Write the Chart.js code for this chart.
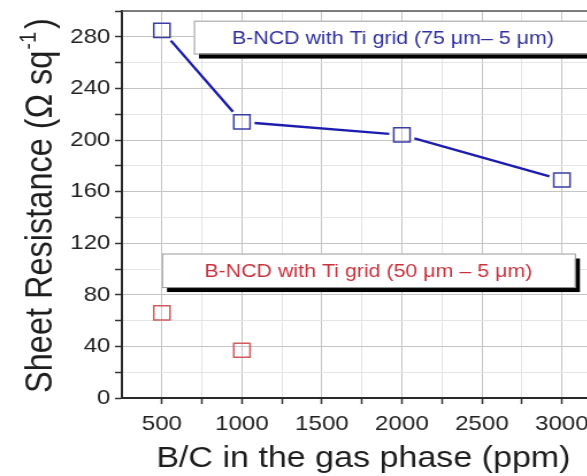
<!DOCTYPE html>
<html>
<head>
<meta charset="utf-8">
<script src="https://cdn.jsdelivr.net/npm/chart.js@4/dist/chart.umd.min.js"></script>
<style>
  html, body { margin: 0; padding: 0; background: #fff; overflow: hidden; width: 587px; height: 476px; }
  #wrap { position: absolute; left: 0; top: 0; width: 511px; height: 476px; transform: scaleX(1.15); transform-origin: 0 0; }
  canvas { display: block; }
</style>
</head>
<body>
<div id="wrap"><canvas id="c" width="511" height="476"></canvas></div>
<script>
// Sheet resistance versus B/C ratio for two Ti grid geometries
const boronRatio75 = [500, 1000, 2000, 3000];
const resistance75 = [285, 214, 204, 169];
const boronRatio50 = [500, 1000];
const resistance50 = [66, 37];

const xTickValues = [500, 750, 1000, 1250, 1500, 1750, 2000, 2250, 2500, 2750, 3000];
const xLabelStep = 500;
const yTickValues = [0, 20, 40, 60, 80, 100, 120, 140, 160, 180, 200, 220, 240, 260, 280, 300];
const yLabelStep = 40;

const label75 = 'B-NCD with Ti grid (75 \u03bcm\u2013 5 \u03bcm)';
const label50 = 'B-NCD with Ti grid (50 \u03bcm \u2013 5 \u03bcm)';
const xTitle = 'B/C in the gas phase (ppm)';
const yTitleMain = 'Sheet Resistance (\u03a9 sq';
const yTitleSup = '-1';
const yTitleEnd = ')';

const FONT = '"Liberation Sans", Arial, Helvetica, sans-serif';
const MAJOR_GRID = '#c4c4c4';
const MINOR_GRID = '#e4e4e4';
const MARKER_HALF = 7.5;   // half side of the square markers, px
const LINE_GAP = 3.5;      // clearance between a marker and the connecting line

// Boxed series captions with a drop shadow, placed in data units
const captionBoxes = [
  { text: label75, color: '#2f2f9e', x0: 700, x1: 3400, yTop: 292.5, yBottom: 267, textX: 1944 },
  { text: label50, color: '#c8323c', x0: 500, x1: 3081, yTop: 112, yBottom: 86, textX: 1790 }
];

const captionPlugin = {
  id: 'captions',
  beforeDatasetsDraw(chart) {
    const { ctx, scales: { x, y } } = chart;
    ctx.save();
    captionBoxes.forEach(b => {
      const l = x.getPixelForValue(b.x0), r = x.getPixelForValue(b.x1);
      const t = y.getPixelForValue(b.yTop), btm = y.getPixelForValue(b.yBottom);
      ctx.fillStyle = '#000';
      ctx.fillRect(l + 4.4, t + 5, r - l, btm - t);
      ctx.fillStyle = '#fff';
      ctx.fillRect(l, t, r - l, btm - t);
      ctx.strokeStyle = '#9a9a9a';
      ctx.lineWidth = 1;
      ctx.strokeRect(l + 0.5, t + 0.5, r - l, btm - t);
      ctx.fillStyle = b.color;
      ctx.font = '18.6px ' + FONT;
      ctx.textAlign = 'center';
      ctx.textBaseline = 'middle';
      ctx.fillText(b.text, x.getPixelForValue(b.textX), (t + btm) / 2 + 2);
    });
    ctx.restore();
  }
};

// Axis titles, frame line on top, and the superscript in the y title
const titlePlugin = {
  id: 'titles',
  afterDraw(chart) {
    const { ctx, chartArea: a } = chart;
    ctx.save();
    ctx.strokeStyle = '#555';
    ctx.lineWidth = 1.5;
    ctx.beginPath();
    ctx.moveTo(a.left, a.top);
    ctx.lineTo(a.right, a.top);
    ctx.stroke();

    ctx.fillStyle = '#1e1e1e';
    ctx.font = '29.6px ' + FONT;
    ctx.textAlign = 'center';
    ctx.textBaseline = 'alphabetic';
    ctx.fillText(xTitle, 316, 467);

    const big = '32.5px ' + FONT, small = '20px ' + FONT;
    ctx.font = big;
    const w1 = ctx.measureText(yTitleMain).width;
    const w3 = ctx.measureText(yTitleEnd).width;
    ctx.font = small;
    const w2 = ctx.measureText(yTitleSup).width + 3;
    const total = w1 + w2 + w3;
    ctx.translate(45, 206);
    ctx.rotate(-Math.PI / 2);
    ctx.textAlign = 'left';
    let px = -total / 2;
    ctx.font = big;
    ctx.fillText(yTitleMain, px, 0);
    px += w1 + 1;
    ctx.font = small;
    ctx.fillText(yTitleSup, px, -14);
    px += w2;
    ctx.font = big;
    ctx.fillText(yTitleEnd, px, 0);
    ctx.restore();
  }
};

// Pin each axis box to a fixed size and drop the label overhang padding
const pinScale = (w, h) => s => {
  if (w !== null) s.width = w;
  if (h !== null) s.height = h;
  s.paddingTop = 0; s.paddingBottom = 0; s.paddingLeft = 0; s.paddingRight = 0;
};

// Dash pattern that leaves a small gap next to each marker on a segment
const gappedDash = ctx => {
  const dx = ctx.p1.x - ctx.p0.x, dy = ctx.p1.y - ctx.p0.y;
  const len = Math.hypot(dx, dy);
  const edge = MARKER_HALF / Math.max(Math.abs(dx) / len, Math.abs(dy) / len);
  const g = edge + LINE_GAP;
  return [0, g, Math.max(len - 2 * g, 0), len + 10];
};

new Chart(document.getElementById('c'), {
  type: 'scatter',
  data: {
    datasets: [
      {
        label: label75,
        data: boronRatio75.map((v, i) => ({ x: v, y: resistance75[i] })),
        showLine: true,
        borderColor: '#1c1cae',
        borderWidth: 2.4,
        segment: { borderDash: gappedDash },
        pointStyle: 'rect',
        pointRadius: 10,
        pointBorderColor: '#3c3ca6',
        pointBorderWidth: 1.5,
        pointBackgroundColor: 'rgba(255,255,255,0)'
      },
      {
        label: label50,
        data: boronRatio50.map((v, i) => ({ x: v, y: resistance50[i] })),
        showLine: false,
        pointStyle: 'rect',
        pointRadius: 10,
        pointBorderColor: '#d05a5f',
        pointBorderWidth: 1.5,
        pointBackgroundColor: 'rgba(255,255,255,0)'
      }
    ]
  },
  options: {
    responsive: false,
    animation: false,
    devicePixelRatio: 1,
    layout: { autoPadding: false, padding: { top: 11, left: 0, right: 0, bottom: 0 } },
    plugins: { legend: { display: false }, tooltip: { enabled: false } },
    scales: {
      x: {
        type: 'linear',
        min: 250,
        max: 3161,
        afterBuildTicks: s => { s.ticks = xTickValues.map(v => ({ value: v })); },
        afterFit: pinScale(null, 78),
        grid: {
          color: c => (c.tick && c.tick.value % xLabelStep === 0 ? MAJOR_GRID : MINOR_GRID),
          lineWidth: 1,
          tickColor: '#333',
          tickLength: 6,
          tickWidth: 1.5
        },
        border: { color: '#2a2a2a', width: 2 },
        ticks: {
          autoSkip: false,
          maxRotation: 0,
          padding: 8,
          color: '#222',
          font: { family: FONT, size: 21 },
          callback: v => (v % xLabelStep === 0 ? String(v) : '')
        }
      },
      y: {
        type: 'linear',
        min: 0,
        max: 300,
        afterBuildTicks: s => { s.ticks = yTickValues.map(v => ({ value: v })); },
        afterFit: pinScale(106, null),
        grid: {
          color: c => (c.tick && c.tick.value % yLabelStep === 0 ? MAJOR_GRID : MINOR_GRID),
          lineWidth: 1,
          tickColor: '#333',
          tickLength: 6,
          tickWidth: 1.5
        },
        border: { color: '#2a2a2a', width: 2 },
        ticks: {
          autoSkip: false,
          padding: 4,
          color: '#222',
          font: { family: FONT, size: 21 },
          callback: v => (v % yLabelStep === 0 ? String(v) : '')
        }
      }
    }
  },
  plugins: [captionPlugin, titlePlugin]
});
</script>
</body>
</html>
